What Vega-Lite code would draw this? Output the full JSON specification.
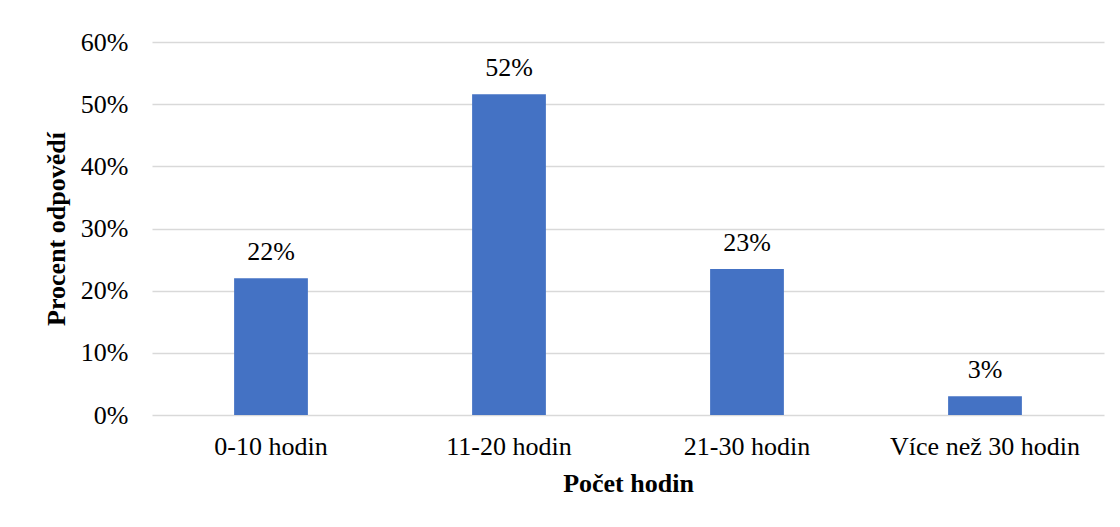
{
  "$schema": "https://vega.github.io/schema/vega-lite/v6.json",
  "autosize": "none",
  "width": 952,
  "height": 373,
  "padding": {"left": 152, "top": 42, "right": 16, "bottom": 112},
  "background": "white",
  "config": {
    "font": "Liberation Serif",
    "view": {"stroke": null}
  },
  "data": {
    "values": [
      {"kategorie": "0-10 hodin", "podil": 0.22, "popis": "22%"},
      {"kategorie": "11-20 hodin", "podil": 0.516, "popis": "52%"},
      {"kategorie": "21-30 hodin", "podil": 0.235, "popis": "23%"},
      {"kategorie": "Více než 30 hodin", "podil": 0.03, "popis": "3%"}
    ]
  },
  "encoding": {
    "x": {
      "field": "kategorie",
      "type": "nominal",
      "sort": null,
      "scale": {"paddingInner": 0.69, "paddingOuter": 0.345},
      "axis": {
        "title": "Počet hodin",
        "titleFont": "Liberation Serif",
        "titleFontSize": 26,
        "titleFontWeight": "bold",
        "titleColor": "#000000",
        "titlePadding": 11,
        "labelFontSize": 26,
        "labelColor": "#000000",
        "labelAngle": 0,
        "labelPadding": 18,
        "labelLimit": 0,
        "ticks": false,
        "domain": false
      }
    },
    "y": {
      "field": "podil",
      "type": "quantitative",
      "scale": {"domain": [0, 0.6]},
      "axis": {
        "title": "Procent odpovědí",
        "titleFontSize": 26,
        "titleFontWeight": "bold",
        "titleColor": "#000000",
        "titlePadding": 11,
        "format": ".0%",
        "values": [0, 0.1, 0.2, 0.3, 0.4, 0.5, 0.6],
        "labelFontSize": 26,
        "labelColor": "#000000",
        "labelPadding": 24,
        "ticks": false,
        "domain": false,
        "gridColor": "#d9d9d9",
        "gridWidth": 1.5
      }
    }
  },
  "layer": [
    {"mark": {"type": "bar", "color": "#4472c4"}},
    {
      "mark": {"type": "text", "dy": -26, "fontSize": 26, "color": "#000000", "baseline": "middle"},
      "encoding": {"text": {"field": "popis"}}
    }
  ]
}
